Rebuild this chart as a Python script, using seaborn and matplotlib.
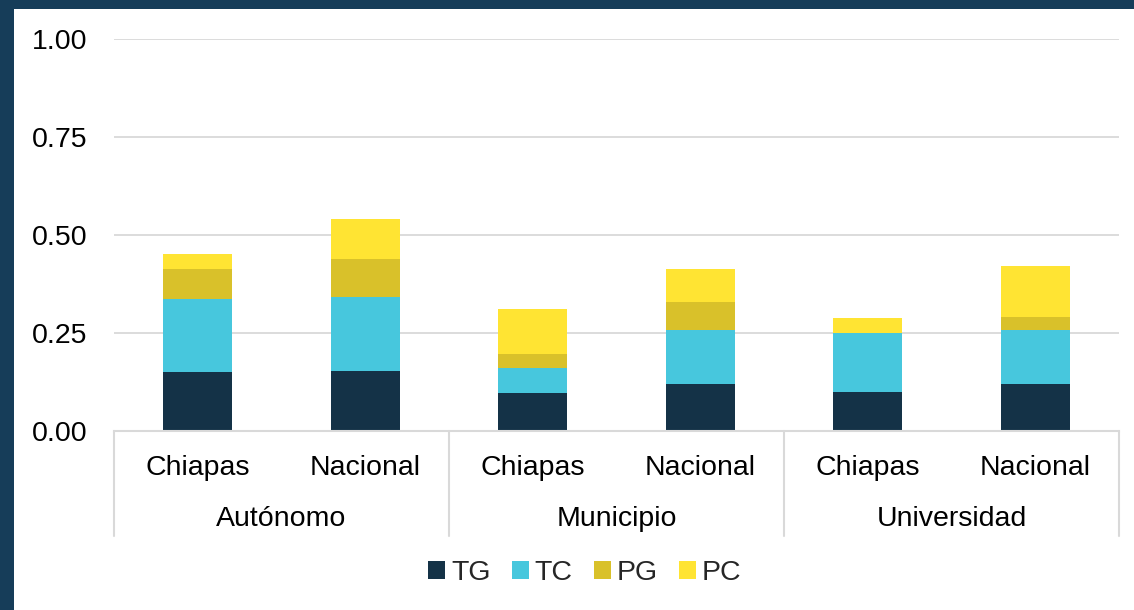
import matplotlib
matplotlib.use("Agg")
import matplotlib.pyplot as plt
from matplotlib.patches import Rectangle, Patch
import seaborn as sns
import pandas as pd
import numpy as np

groups = ["Autónomo", "Municipio", "Universidad"]
regions = ["Chiapas", "Nacional"]
series = ["TG", "TC", "PG", "PC"]
TG = [0.151, 0.153, 0.096, 0.119, 0.0995, 0.120]
TC = [0.186, 0.188, 0.065, 0.139, 0.1505, 0.137]
PG = [0.076, 0.099, 0.036, 0.070, 0.0, 0.034]
PC = [0.038, 0.101, 0.114, 0.086, 0.0375, 0.131]
yticks = [0.0, 0.25, 0.5, 0.75, 1.0]
ytick_labels = ["0.00", "0.25", "0.50", "0.75", "1.00"]

colors = {"TG": "#143247", "TC": "#47C7DD", "PG": "#D9C12A", "PC": "#FFE433"}
navy = "#163D59"
grid_c = "#D9D9D9"
FS = 20.5

sns.set_theme(style="white")
plt.rcParams["font.family"] = ["Liberation Sans", "DejaVu Sans"]

cats = [f"{g}|{r}" for g in groups for r in regions]
df = pd.DataFrame({"cat": cats, "TG": TG, "TC": TC, "PG": PG, "PC": PC})
cum = df[series].cumsum(axis=1)

fig = plt.figure(figsize=(11.34, 6.10), dpi=100)
ax = fig.add_axes([114/1134, (610-431)/610, (1119-114)/1134, (431-39)/610])

for s in reversed(series):
    sns.barplot(x=df["cat"], y=cum[s], order=cats, color=colors[s], width=0.41,
                ax=ax, saturation=1, linewidth=0, zorder=3)

ax.set_ylim(0, 1)
ax.set_xlim(-0.5, len(cats) - 0.5)
ax.set_yticks(yticks)
ax.set_yticklabels(ytick_labels, fontsize=FS, color="#000000")
ax.tick_params(axis="y", length=0, pad=19)
ax.set_xticks([])
ax.set_xlabel("")
ax.set_ylabel("")
ax.grid(axis="y", color=grid_c, linewidth=1.3, zorder=0)
ax.set_axisbelow(True)
for sp in ["left", "right", "top"]:
    ax.spines[sp].set_visible(False)
ax.spines["bottom"].set_color(grid_c)
ax.spines["bottom"].set_linewidth(1.5)
ax.spines["bottom"].set_zorder(4)

tr = ax.get_xaxis_transform()
for i, c in enumerate(cats):
    ax.text(i, -37/392, c.split("|")[1], transform=tr, ha="center", va="center",
            fontsize=FS, color="#000000")
for j, g in enumerate(groups):
    ax.text(2*j + 0.5, -88/392, g, transform=tr, ha="center", va="center",
            fontsize=FS, color="#000000")
for xd in [-0.5, 1.5, 3.5, 5.5]:
    ax.plot([xd, xd], [0, -105/392], transform=tr, color=grid_c, linewidth=1.5,
            clip_on=False)

handles = [Patch(facecolor=colors[s], edgecolor="none", label=s) for s in series]
fig.legend(handles=handles, loc="center", bbox_to_anchor=(585/1134, 37/610), ncol=4,
           frameon=False, fontsize=FS, handlelength=0.6, handleheight=0.6,
           handletextpad=0.2, columnspacing=0.75)

fig.patches.append(Rectangle((0, 1 - 9/610), 1, 9/610, transform=fig.transFigure,
                             facecolor=navy, edgecolor="none", zorder=10))
fig.patches.append(Rectangle((0, 0), 14/1134, 1, transform=fig.transFigure,
                             facecolor=navy, edgecolor="none", zorder=10))

fig.savefig("out.png", dpi=100, facecolor="white")
